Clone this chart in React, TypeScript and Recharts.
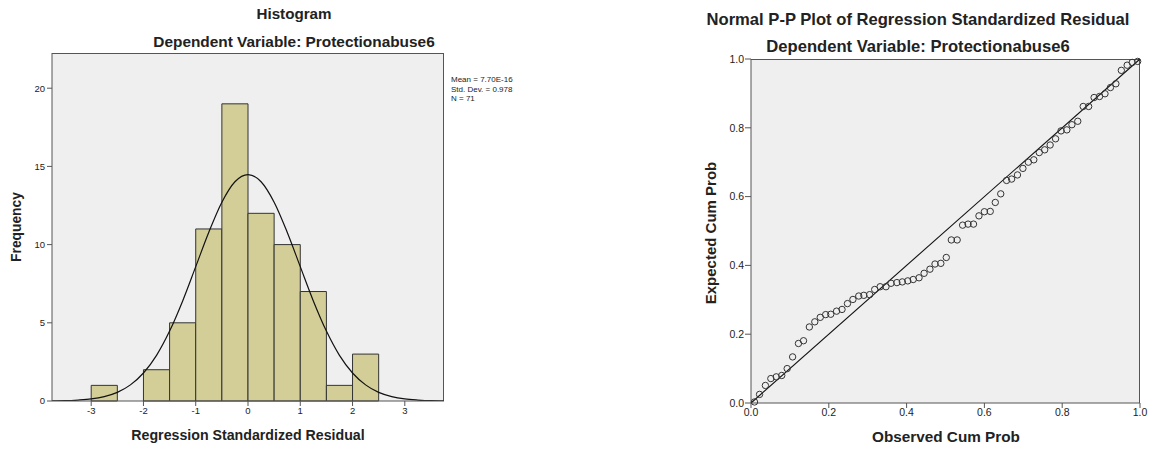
import React from "react";
import {
  ComposedChart, ScatterChart, Scatter, Line, XAxis, YAxis, ReferenceArea, ReferenceLine,
} from "recharts";

// histogram bins (lower edge, count), width 0.5
const binStarts = [-3, -2.5, -2, -1.5, -1, -0.5, 0, 0.5, 1, 1.5, 2];
const binCounts = [1, 0, 2, 5, 11, 19, 12, 10, 7, 1, 3];
const binWidth = 0.5;

// fitted normal curve
const curveX = [-3.75, -3.5, -3.25, -3, -2.75, -2.5, -2.25, -2, -1.75, -1.5, -1.25, -1, -0.75, -0.5, -0.25, 0,
  0.25, 0.5, 0.75, 1, 1.25, 1.5, 1.75, 2, 2.25, 2.5, 2.75, 3, 3.25, 3.5, 3.75];
const curveY = [0.01, 0.02, 0.06, 0.13, 0.28, 0.55, 1.03, 1.79, 2.92, 4.47, 6.4, 8.59, 10.79, 12.71, 14.02, 14.48,
  14.02, 12.71, 10.79, 8.59, 6.4, 4.47, 2.92, 1.79, 1.03, 0.55, 0.28, 0.13, 0.06, 0.02, 0.01];

const histXTicks = [-3, -2, -1, 0, 1, 2, 3];
const histYTicks = [0, 5, 10, 15, 20];

// P-P plot points
const ppObserved = [0.009, 0.022, 0.037, 0.051, 0.065, 0.079, 0.093, 0.107, 0.122, 0.135, 0.15, 0.164, 0.178, 0.192,
  0.205, 0.22, 0.234, 0.248, 0.262, 0.277, 0.29, 0.305, 0.318, 0.332, 0.347, 0.36, 0.375, 0.389, 0.403, 0.417,
  0.432, 0.445, 0.46, 0.473, 0.488, 0.502, 0.515, 0.53, 0.544, 0.558, 0.572, 0.586, 0.6, 0.615, 0.628, 0.642,
  0.657, 0.67, 0.685, 0.699, 0.713, 0.727, 0.741, 0.755, 0.769, 0.783, 0.797, 0.812, 0.825, 0.84, 0.854, 0.868,
  0.882, 0.896, 0.91, 0.924, 0.938, 0.952, 0.967, 0.98, 0.994];
const ppExpected = [0.003, 0.025, 0.051, 0.071, 0.076, 0.08, 0.1, 0.134, 0.173, 0.181, 0.221, 0.236, 0.249, 0.257,
  0.258, 0.267, 0.272, 0.289, 0.301, 0.311, 0.313, 0.315, 0.33, 0.338, 0.338, 0.348, 0.35, 0.352, 0.355, 0.359,
  0.364, 0.377, 0.389, 0.404, 0.406, 0.423, 0.474, 0.474, 0.517, 0.52, 0.52, 0.544, 0.556, 0.557, 0.583, 0.608,
  0.647, 0.651, 0.663, 0.682, 0.7, 0.707, 0.728, 0.736, 0.75, 0.768, 0.791, 0.794, 0.809, 0.819, 0.862, 0.862,
  0.888, 0.891, 0.899, 0.917, 0.928, 0.967, 0.982, 0.99, 0.993];
const ppTicks = [0, 0.2, 0.4, 0.6, 0.8, 1];

const FONT = "'Liberation Sans', Arial, sans-serif";
const INK = "#222";

const curveData = curveX.map((x, i) => ({ x, y: curveY[i] }));
const bins = binStarts.map((s, i) => ({ x1: s, x2: s + binWidth, n: binCounts[i] })).filter((b) => b.n > 0);
const ppData = ppObserved.map((x, i) => ({ x, y: ppExpected[i] }));

const Txt = ({ x, y, size, bold, rotate, children }: any) => (
  <div style={{
    position: "absolute", left: x, top: y, transform: `translate(-50%,-50%)${rotate ? " rotate(-90deg)" : ""}`,
    fontFamily: FONT, fontSize: size, fontWeight: bold ? "bold" : "normal", color: INK, whiteSpace: "nowrap", lineHeight: 1,
  }}>{children}</div>
);

const Ring = (p: any) => <circle cx={p.cx} cy={p.cy} r={3.2} fill="none" stroke="#333" strokeWidth={1} />;

export default function App() {
  const histTick = { fontSize: 9.5, fill: INK, fontFamily: FONT };
  const ppTick = { fontSize: 10.5, fill: INK, fontFamily: FONT };
  return (
    <div style={{ position: "absolute", left: 0, top: 0, width: 1154, height: 449, background: "#fff", overflow: "hidden" }}>
      {/* histogram */}
      <div style={{ position: "absolute", left: 52, top: 53, width: 392, height: 348, background: "#efefef", borderTop: "1px solid #555", borderRight: "1px solid #555", boxSizing: "border-box" }} />
      <div style={{ position: "absolute", left: 0, top: 0 }}>
        <ComposedChart width={520} height={449} data={curveData} margin={{ top: 53, right: 76, bottom: 0, left: 0 }}>
          <XAxis dataKey="x" type="number" domain={[-3.75, 3.75]} ticks={histXTicks} height={48} tick={histTick}
            stroke="#555" tickSize={5} tickMargin={1} allowDataOverflow />
          <YAxis type="number" domain={[0, 22.25]} ticks={histYTicks} width={52} tick={histTick}
            stroke="#555" tickSize={5} tickMargin={2} allowDataOverflow />
          {bins.map((b, i) => (
            <ReferenceArea key={i} x1={b.x1} x2={b.x2} y1={0} y2={b.n} fill="#d3ce98" fillOpacity={1}
              stroke="#333" strokeWidth={1} strokeOpacity={1} />
          ))}
          <Line dataKey="y" type="monotone" dot={false} stroke="#111" strokeWidth={1.2} isAnimationActive={false} />
        </ComposedChart>
      </div>
      <Txt x={294} y={14} size={15.2} bold>Histogram</Txt>
      <Txt x={294} y={42} size={15.4} bold>Dependent Variable: Protectionabuse6</Txt>
      <Txt x={17} y={227} size={13.8} bold rotate>Frequency</Txt>
      <Txt x={248} y={435} size={14.2} bold>Regression Standardized Residual</Txt>
      <div style={{ position: "absolute", left: 451, top: 75, fontFamily: FONT, fontSize: 8, lineHeight: "9.5px", color: INK }}>
        <div>Mean = 7.70E-16</div>
        <div>Std. Dev. = 0.978</div>
        <div>N = 71</div>
      </div>

      {/* P-P plot */}
      <div style={{ position: "absolute", left: 751, top: 59, width: 389, height: 344, background: "#efefef", borderTop: "1px solid #555", borderRight: "1px solid #555", boxSizing: "border-box" }} />
      <div style={{ position: "absolute", left: 600, top: 0 }}>
        <ScatterChart width={554} height={449} margin={{ top: 59, right: 14, bottom: 0, left: 0 }}>
          <XAxis dataKey="x" type="number" domain={[0, 1]} ticks={ppTicks} height={46} tick={ppTick}
            tickFormatter={(v: number) => v.toFixed(1)} stroke="#555" tickSize={5} tickMargin={1} />
          <YAxis dataKey="y" type="number" domain={[0, 1]} ticks={ppTicks} width={151} tick={ppTick}
            tickFormatter={(v: number) => v.toFixed(1)} stroke="#555" tickSize={6} tickMargin={1} />
          <ReferenceLine segment={[{ x: 0, y: 0 }, { x: 1, y: 1 }]} stroke="#111" strokeWidth={1.1} />
          <Scatter data={ppData} shape={Ring} isAnimationActive={false} />
        </ScatterChart>
      </div>
      <Txt x={918} y={20} size={16.6} bold>Normal P-P Plot of Regression Standardized Residual</Txt>
      <Txt x={918} y={47} size={16.6} bold>Dependent Variable: Protectionabuse6</Txt>
      <Txt x={710} y={233} size={15} bold rotate>Expected Cum Prob</Txt>
      <Txt x={946} y={437} size={15.3} bold>Observed Cum Prob</Txt>
    </div>
  );
}
